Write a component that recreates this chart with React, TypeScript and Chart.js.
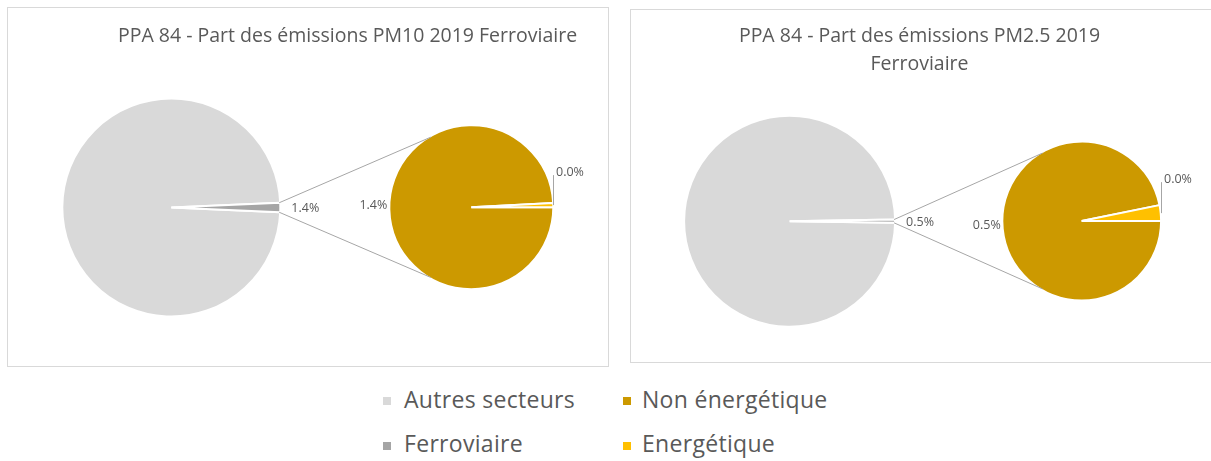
import React, { useEffect, useRef } from "react";
import { Chart, registerables } from "chart.js";

Chart.register(...registerables);

// ---- data ----
const mainLabels = ["Autres secteurs", "Ferroviaire"];
const subLabels = ["Non énergétique", "Energétique"];
const mainColors = ["#d9d9d9", "#a5a5a5"];
const subColors = ["#cc9900", "#ffc000"];

const pm10Title = "PPA 84 - Part des émissions PM10 2019 Ferroviaire";
const pm10Main = [98.6, 1.4];
const pm10Sub = [1.388, 0.012];

const pm25Title = ["PPA 84 - Part des émissions PM2.5 2019", "Ferroviaire"];
const pm25Main = [99.5, 0.5];
const pm25Sub = [0.484, 0.016];

const FONT = '"Open Sans", "Noto Sans", sans-serif';
const TEXT = "#595959";
const LINE = "#a6a6a6";
const BORDER = 2;

const fmt = (v: number) => `${v.toFixed(1)}%`;

const pieOfPiePlugin = {
  id: "pieOfPie",
  beforeDatasetsDraw(chart: any, _a: any, opts: any) {
    const m0 = chart.getDatasetMeta(0);
    const m1 = chart.getDatasetMeta(1);
    m0.data.forEach((arc: any) =>
      Object.assign(arc, { x: opts.mainX, y: opts.mainY, innerRadius: 0, outerRadius: opts.mainR + BORDER / 2 })
    );
    m1.data.forEach((arc: any) =>
      Object.assign(arc, { x: opts.subX, y: opts.subY, innerRadius: 0, outerRadius: opts.subR + BORDER / 2 })
    );
  },
  afterDatasetsDraw(chart: any, _a: any, opts: any) {
    const ctx: CanvasRenderingContext2D = chart.ctx;
    const m0 = chart.getDatasetMeta(0);
    const m1 = chart.getDatasetMeta(1);
    const d0 = chart.data.datasets[0].data as number[];
    const d1 = chart.data.datasets[1].data as number[];
    const total = d0.reduce((a, b) => a + b, 0);
    const R1 = opts.mainR;
    const R2 = opts.subR;
    const rail = m0.data[1];
    const a1 = rail.startAngle;
    const a2 = rail.endAngle;
    const ca = (opts.connectorAngle * Math.PI) / 180;

    ctx.save();
    ctx.strokeStyle = LINE;
    ctx.lineWidth = 1;
    ctx.beginPath();
    ctx.moveTo(opts.mainX + R1 * Math.cos(a1), opts.mainY + R1 * Math.sin(a1));
    ctx.lineTo(opts.subX + R2 * Math.cos(-ca), opts.subY + R2 * Math.sin(-ca));
    ctx.moveTo(opts.mainX + R1 * Math.cos(a2), opts.mainY + R1 * Math.sin(a2));
    ctx.lineTo(opts.subX + R2 * Math.cos(ca), opts.subY + R2 * Math.sin(ca));
    ctx.stroke();

    ctx.font = `12.5px ${FONT}`;
    ctx.fillStyle = TEXT;
    ctx.textBaseline = "middle";

    // main "other" slice label
    const mid0 = (a1 + a2) / 2;
    ctx.textAlign = "left";
    ctx.fillText(
      fmt((d0[1] / total) * 100),
      opts.mainX + (R1 + 12) * Math.cos(mid0),
      opts.mainY + (R1 + 12) * Math.sin(mid0) + 1
    );

    // secondary big slice label
    const s0 = m1.data[0];
    const mid1 = (s0.startAngle + s0.endAngle) / 2;
    ctx.textAlign = "right";
    ctx.fillText(
      fmt((d1[0] / total) * 100),
      opts.subX + (R2 + 3) * Math.cos(mid1),
      opts.subY + (R2 + 3) * Math.sin(mid1) - 4
    );

    // secondary small slice label with leader
    const s1 = m1.data[1];
    const mid2 = (s1.startAngle + s1.endAngle) / 2;
    const px = Math.round(opts.subX + R2 * Math.cos(mid2) + 1) + 0.5;
    const py = opts.subY + R2 * Math.sin(mid2);
    const topY = py - opts.rise;
    ctx.beginPath();
    ctx.moveTo(px, py);
    ctx.lineTo(px, topY);
    ctx.stroke();
    ctx.textAlign = "left";
    ctx.fillText(fmt((d1[1] / total) * 100), px + 2.5, topY - 3);
    ctx.restore();
  },
};

type Geom = {
  mainX: number; mainY: number; mainR: number;
  subX: number; subY: number; subR: number;
  connectorAngle: number; rise: number;
  padLeft: number; padRight: number; titleTop: number;
};

function PieOfPie(props: {
  left: number; top: number; width: number; height: number;
  title: string | string[]; mainData: number[]; subData: number[]; geom: Geom;
}) {
  const { left, top, width, height, title, mainData, subData, geom } = props;
  const ref = useRef<HTMLCanvasElement>(null);
  useEffect(() => {
    let chart: any = null;
    let cancelled = false;
    const make = () => {
      if (cancelled || !ref.current) return;
      const mainTotal = mainData.reduce((a, b) => a + b, 0);
      const f = mainData[1] / mainTotal;
      chart = new Chart(ref.current, {
        type: "pie",
        data: {
          labels: mainLabels,
          datasets: [
            {
              data: mainData,
              backgroundColor: mainColors,
              borderColor: "#ffffff",
              borderWidth: BORDER,
              rotation: 90 + 180 * f,
              clip: false,
            } as any,
            {
              data: subData,
              backgroundColor: subColors,
              borderColor: "#ffffff",
              borderWidth: BORDER,
              rotation: 90,
              clip: false,
            } as any,
          ],
        },
        options: {
          responsive: false,
          maintainAspectRatio: false,
          animation: false,
          events: [],
          layout: { padding: { left: geom.padLeft, right: geom.padRight, top: 0, bottom: 0 } },
          plugins: {
            legend: { display: false },
            tooltip: { enabled: false },
            title: {
              display: true,
              text: title,
              color: TEXT,
              font: { family: FONT, size: 19.5, weight: "normal", lineHeight: 1.45 },
              padding: { top: geom.titleTop, bottom: 0 },
            },
            pieOfPie: geom,
          } as any,
        },
        plugins: [pieOfPiePlugin],
      } as any);
    };
    const fonts: any = (document as any).fonts;
    if (fonts && fonts.load) {
      Promise.all([fonts.load(`19.5px "Open Sans"`), fonts.load(`12px "Open Sans"`)]).then(make, make);
    } else make();
    return () => {
      cancelled = true;
      if (chart) chart.destroy();
    };
  }, []);
  return (
    <div
      style={{
        position: "absolute",
        left,
        top,
        width,
        height,
        border: "1px solid #d9d9d9",
        background: "#ffffff",
      }}
    >
      <canvas ref={ref} width={width} height={height} style={{ display: "block" }} />
    </div>
  );
}

function Legend() {
  const cols = [
    { labels: mainLabels, colors: mainColors, markerX: 383, textX: 404 },
    { labels: subLabels, colors: subColors, markerX: 623, textX: 642 },
  ];
  const markerTops = [397, 441.5];
  const textTops = [384, 428];
  return (
    <>
      {cols.map((c, ci) =>
        c.labels.map((lab, ri) => (
          <React.Fragment key={`${ci}-${ri}`}>
            <div
              style={{
                position: "absolute",
                left: c.markerX,
                top: markerTops[ri],
                width: 8,
                height: 8,
                background: c.colors[ri],
              }}
            />
            <div
              style={{
                position: "absolute",
                left: c.textX,
                top: textTops[ri],
                fontFamily: FONT,
                fontSize: 23,
                letterSpacing: "0.3px",
                lineHeight: "31px",
                color: TEXT,
                whiteSpace: "nowrap",
              }}
            >
              {lab}
            </div>
          </React.Fragment>
        ))
      )}
    </>
  );
}

export default function App() {
  return (
    <div
      style={{
        position: "absolute",
        left: 0,
        top: 0,
        width: 1211,
        height: 461,
        overflow: "hidden",
        background: "#ffffff",
      }}
    >
      <PieOfPie
        left={7}
        top={7}
        width={600}
        height={358}
        title={pm10Title}
        mainData={pm10Main}
        subData={pm10Sub}
        geom={{
          mainX: 163.3, mainY: 199.5, mainR: 108,
          subX: 463.3, subY: 199.3, subR: 81,
          connectorAngle: 120, rise: 30,
          padLeft: 79, padRight: 0, titleTop: 14.3,
        }}
      />
      <PieOfPie
        left={630}
        top={9}
        width={598}
        height={352}
        title={pm25Title}
        mainData={pm25Main}
        subData={pm25Sub}
        geom={{
          mainX: 158.6, mainY: 211.2, mainR: 104.5,
          subX: 450.7, subY: 211, subR: 78.4,
          connectorAngle: 120, rise: 31,
          padLeft: 0, padRight: 21, titleTop: 12.3,
        }}
      />
      <Legend />
    </div>
  );
}
